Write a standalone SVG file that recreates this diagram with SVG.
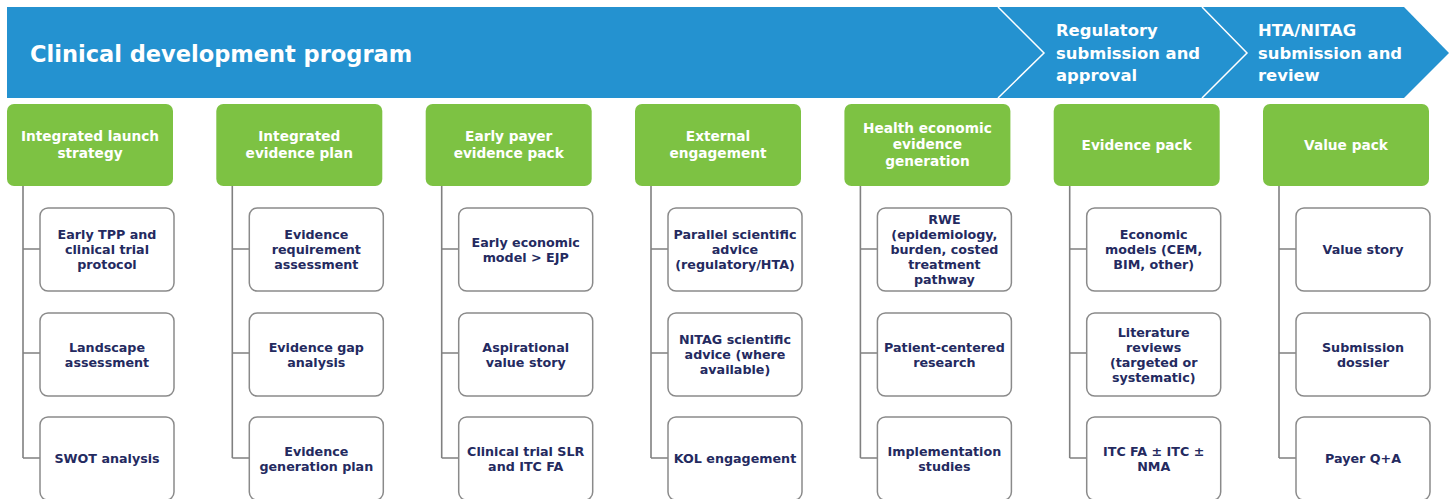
<svg xmlns="http://www.w3.org/2000/svg" width="1453" height="499" viewBox="0 0 1453 499">
  <style>
    .banner { fill: #2492D0; }
    .chev { fill: none; stroke: #ffffff; stroke-width: 1.5; }
    .btitle { font-family: "DejaVu Sans", "Liberation Sans", sans-serif; font-weight: 700; font-size: 22.5px; fill: #ffffff; }
    .bstage { font-family: "DejaVu Sans", "Liberation Sans", sans-serif; font-weight: 700; font-size: 16.4px; fill: #ffffff; }
    .head rect { fill: #7DC243; }
    .head text { font-family: "DejaVu Sans", "Liberation Sans", sans-serif; font-weight: 700; font-size: 13.7px; fill: #ffffff; text-anchor: middle; }
    .item rect { fill: #ffffff; stroke: #8a8a8a; stroke-width: 1.5; }
    .item text { font-family: "DejaVu Sans", "Liberation Sans", sans-serif; font-weight: 700; font-size: 12.7px; fill: #242A5F; text-anchor: middle; }
    .conn { fill: none; stroke: #808080; stroke-width: 1.6; }
  </style>

  <!-- phase banner -->
  <g id="banner">
    <polygon class="banner" points="7,7 1404,7 1449,53 1404,98 7,98"/>
    <polyline class="chev" points="998,7 1044,53 998,98"/>
    <polyline class="chev" points="1202,7 1247,53 1202,98"/>
    <text class="btitle" x="30" y="62">Clinical development program</text>
    <text class="bstage" x="1056" y="36">Regulatory</text>
    <text class="bstage" x="1056" y="59">submission and</text>
    <text class="bstage" x="1056" y="81">approval</text>
    <text class="bstage" x="1258" y="36">HTA/NITAG</text>
    <text class="bstage" x="1258" y="59">submission and</text>
    <text class="bstage" x="1258" y="81">review</text>
  </g>

  <!-- tree connectors: one spine per column with three branches -->
  <g id="connectors">
    <path class="conn" d="M23,186 V458 M23,249 H40 M23,353 H40 M23,458 H40"/>
    <path class="conn" d="M232.3,186 V458 M232.3,249 H249.3 M232.3,353 H249.3 M232.3,458 H249.3"/>
    <path class="conn" d="M441.7,186 V458 M441.7,249 H458.7 M441.7,353 H458.7 M441.7,458 H458.7"/>
    <path class="conn" d="M651,186 V458 M651,249 H668 M651,353 H668 M651,458 H668"/>
    <path class="conn" d="M860.4,186 V458 M860.4,249 H877.4 M860.4,353 H877.4 M860.4,458 H877.4"/>
    <path class="conn" d="M1069.7,186 V458 M1069.7,249 H1086.7 M1069.7,353 H1086.7 M1069.7,458 H1086.7"/>
    <path class="conn" d="M1279,186 V458 M1279,249 H1296 M1279,353 H1296 M1279,458 H1296"/>
  </g>

  <!-- column 1 -->
  <g id="h1" class="head"><rect x="7" y="104" width="166" height="82" rx="7"/>
    <text x="90" y="141">Integrated launch</text><text x="90" y="157.5">strategy</text></g>
  <g id="c1a" class="item"><rect x="40" y="208" width="134" height="83" rx="8"/>
    <text x="107" y="239.2">Early TPP and</text><text x="107" y="254.2">clinical trial</text><text x="107" y="269.2">protocol</text></g>
  <g id="c1b" class="item"><rect x="40" y="313" width="134" height="83" rx="8"/>
    <text x="107" y="351.7">Landscape</text><text x="107" y="366.7">assessment</text></g>
  <g id="c1c" class="item"><rect x="40" y="417" width="134" height="83" rx="8"/>
    <text x="107" y="463.2">SWOT analysis</text></g>

  <!-- column 2 -->
  <g id="h2" class="head"><rect x="216.3" y="104" width="166" height="82" rx="7"/>
    <text x="299.3" y="141">Integrated</text><text x="299.3" y="157.5">evidence plan</text></g>
  <g id="c2a" class="item"><rect x="249.3" y="208" width="134" height="83" rx="8"/>
    <text x="316.3" y="239.2">Evidence</text><text x="316.3" y="254.2">requirement</text><text x="316.3" y="269.2">assessment</text></g>
  <g id="c2b" class="item"><rect x="249.3" y="313" width="134" height="83" rx="8"/>
    <text x="316.3" y="351.7">Evidence gap</text><text x="316.3" y="366.7">analysis</text></g>
  <g id="c2c" class="item"><rect x="249.3" y="417" width="134" height="83" rx="8"/>
    <text x="316.3" y="455.7">Evidence</text><text x="316.3" y="470.7">generation plan</text></g>

  <!-- column 3 -->
  <g id="h3" class="head"><rect x="425.7" y="104" width="166" height="82" rx="7"/>
    <text x="508.7" y="141">Early payer</text><text x="508.7" y="157.5">evidence pack</text></g>
  <g id="c3a" class="item"><rect x="458.7" y="208" width="134" height="83" rx="8"/>
    <text x="525.7" y="246.7">Early economic</text><text x="525.7" y="261.7">model &gt; EJP</text></g>
  <g id="c3b" class="item"><rect x="458.7" y="313" width="134" height="83" rx="8"/>
    <text x="525.7" y="351.7">Aspirational</text><text x="525.7" y="366.7">value story</text></g>
  <g id="c3c" class="item"><rect x="458.7" y="417" width="134" height="83" rx="8"/>
    <text x="525.7" y="455.7">Clinical trial SLR</text><text x="525.7" y="470.7">and ITC FA</text></g>

  <!-- column 4 -->
  <g id="h4" class="head"><rect x="635" y="104" width="166" height="82" rx="7"/>
    <text x="718" y="141">External</text><text x="718" y="157.5">engagement</text></g>
  <g id="c4a" class="item"><rect x="668" y="208" width="134" height="83" rx="8"/>
    <text x="735" y="239.2">Parallel scientific</text><text x="735" y="254.2">advice</text><text x="735" y="269.2">(regulatory/HTA)</text></g>
  <g id="c4b" class="item"><rect x="668" y="313" width="134" height="83" rx="8"/>
    <text x="735" y="344.2">NITAG scientific</text><text x="735" y="359.2">advice (where</text><text x="735" y="374.2">available)</text></g>
  <g id="c4c" class="item"><rect x="668" y="417" width="134" height="83" rx="8"/>
    <text x="735" y="463.2">KOL engagement</text></g>

  <!-- column 5 -->
  <g id="h5" class="head"><rect x="844.4" y="104" width="166" height="82" rx="7"/>
    <text x="927.4" y="132.5">Health economic</text><text x="927.4" y="149">evidence</text><text x="927.4" y="165.5">generation</text></g>
  <g id="c5a" class="item"><rect x="877.4" y="208" width="134" height="83" rx="8"/>
    <text x="944.4" y="224.2">RWE</text><text x="944.4" y="239.2">(epidemiology,</text><text x="944.4" y="254.2">burden, costed</text><text x="944.4" y="269.2">treatment</text><text x="944.4" y="284.2">pathway</text></g>
  <g id="c5b" class="item"><rect x="877.4" y="313" width="134" height="83" rx="8"/>
    <text x="944.4" y="351.7">Patient-centered</text><text x="944.4" y="366.7">research</text></g>
  <g id="c5c" class="item"><rect x="877.4" y="417" width="134" height="83" rx="8"/>
    <text x="944.4" y="455.7">Implementation</text><text x="944.4" y="470.7">studies</text></g>

  <!-- column 6 -->
  <g id="h6" class="head"><rect x="1053.7" y="104" width="166" height="82" rx="7"/>
    <text x="1136.7" y="149.5">Evidence pack</text></g>
  <g id="c6a" class="item"><rect x="1086.7" y="208" width="134" height="83" rx="8"/>
    <text x="1153.7" y="239.2">Economic</text><text x="1153.7" y="254.2">models (CEM,</text><text x="1153.7" y="269.2">BIM, other)</text></g>
  <g id="c6b" class="item"><rect x="1086.7" y="313" width="134" height="83" rx="8"/>
    <text x="1153.7" y="336.7">Literature</text><text x="1153.7" y="351.7">reviews</text><text x="1153.7" y="366.7">(targeted or</text><text x="1153.7" y="381.7">systematic)</text></g>
  <g id="c6c" class="item"><rect x="1086.7" y="417" width="134" height="83" rx="8"/>
    <text x="1153.7" y="455.7">ITC FA ± ITC ±</text><text x="1153.7" y="470.7">NMA</text></g>

  <!-- column 7 -->
  <g id="h7" class="head"><rect x="1263" y="104" width="166" height="82" rx="7"/>
    <text x="1346" y="149.5">Value pack</text></g>
  <g id="c7a" class="item"><rect x="1296" y="208" width="134" height="83" rx="8"/>
    <text x="1363" y="254.2">Value story</text></g>
  <g id="c7b" class="item"><rect x="1296" y="313" width="134" height="83" rx="8"/>
    <text x="1363" y="351.7">Submission</text><text x="1363" y="366.7">dossier</text></g>
  <g id="c7c" class="item"><rect x="1296" y="417" width="134" height="83" rx="8"/>
    <text x="1363" y="463.2">Payer Q+A</text></g>
</svg>
